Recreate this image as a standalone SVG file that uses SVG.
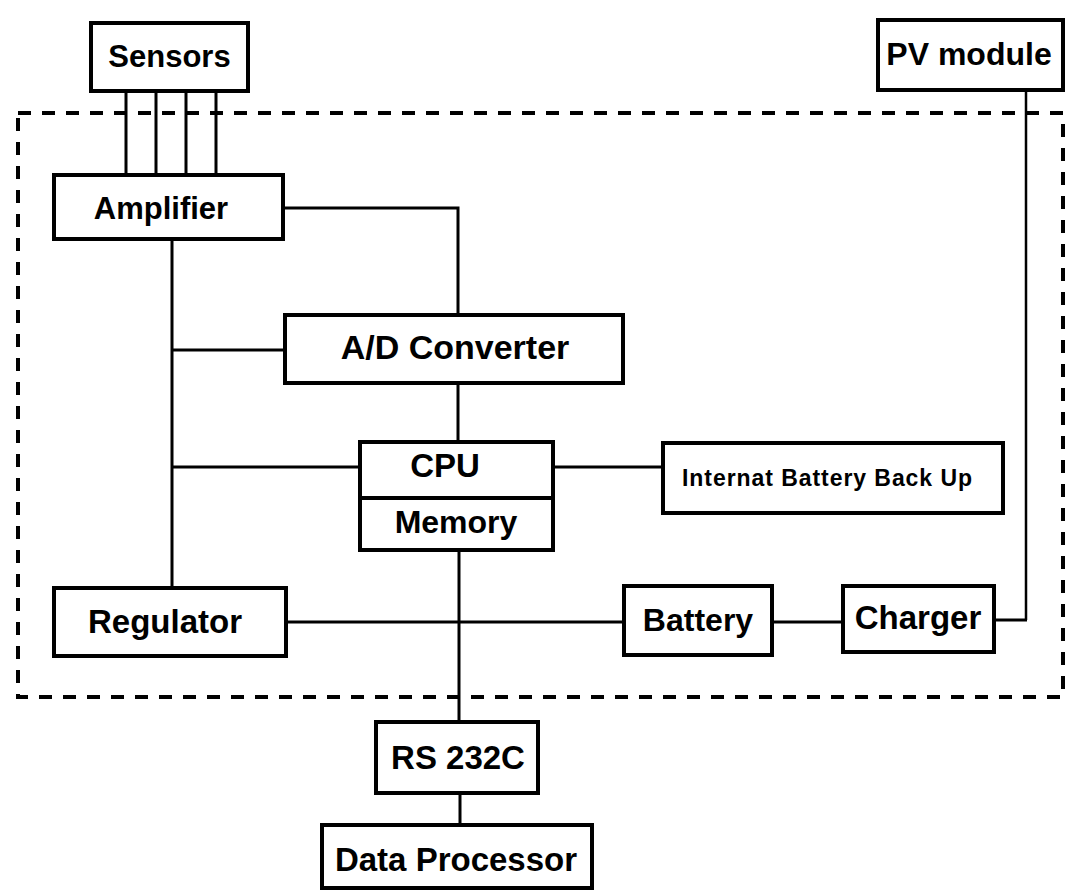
<svg xmlns="http://www.w3.org/2000/svg" width="1067" height="890" viewBox="0 0 1067 890">
<style>
.box{fill:#fff;stroke:#000;stroke-width:4}
.t{font-family:"Liberation Sans",Arial,Helvetica,sans-serif;font-weight:bold;fill:#000;text-anchor:middle}
.c{fill:none;stroke:#000;stroke-width:3}
.b{fill:none;stroke:#000;stroke-width:4;stroke-dasharray:13 11}
</style>
<rect width="1067" height="890" fill="#fff"/>
<rect id="boundary" class="b" x="18" y="113" width="1045" height="584"/>
<g id="connectors">
<path class="c" d="M126 91V175M156 91V175M186 91V175M216 91V175"/>
<path class="c" d="M283 208H458V315"/>
<path class="c" d="M172 239V588"/>
<path class="c" d="M172 350H285"/>
<path class="c" d="M458 383V442"/>
<path class="c" d="M172 467H360"/>
<path class="c" d="M553 467H663"/>
<path class="c" d="M459 550V722"/>
<path class="c" d="M286 622H624"/>
<path class="c" d="M772 622H843"/>
<path class="c" d="M994 620H1027"/>
<path class="c" style="stroke-width:2.5" d="M1026 90V620"/>
<path class="c" d="M460 793V825"/>
</g>
<g id="sensors"><rect class="box" x="91" y="23" width="157" height="68"/><text class="t" x="169.5" y="67" font-size="31">Sensors</text></g>
<g id="pv-module"><rect class="box" x="878" y="20" width="185" height="70"/><text class="t" x="969" y="65" font-size="32">PV module</text></g>
<g id="amplifier"><rect class="box" x="54" y="175" width="229" height="64"/><text class="t" x="161" y="219" font-size="31">Amplifier</text></g>
<g id="ad-converter"><rect class="box" x="285" y="315" width="338" height="68"/><text class="t" x="455" y="359" font-size="34">A/D Converter</text></g>
<g id="cpu-memory"><rect class="box" x="360" y="442" width="193" height="108"/><line x1="360" y1="498" x2="553" y2="498" stroke="#000" stroke-width="4"/><text class="t" x="445" y="477" font-size="33">CPU</text><text class="t" x="456" y="533" font-size="32">Memory</text></g>
<g id="internal-battery"><rect class="box" x="663" y="443" width="340" height="70"/><text class="t" x="827" y="486" font-size="23" textLength="290" lengthAdjust="spacing">Internat Battery Back Up</text></g>
<g id="regulator"><rect class="box" x="54" y="588" width="232" height="68"/><text class="t" x="165" y="633" font-size="33">Regulator</text></g>
<g id="battery"><rect class="box" x="624" y="586" width="148" height="69"/><text class="t" x="698" y="631" font-size="32">Battery</text></g>
<g id="charger"><rect class="box" x="843" y="586" width="151" height="66"/><text class="t" x="918" y="629" font-size="33">Charger</text></g>
<g id="rs232c"><rect class="box" x="376" y="722" width="162" height="71"/><text class="t" x="458" y="769" font-size="33">RS 232C</text></g>
<g id="data-processor"><rect class="box" x="322" y="825" width="270" height="63"/><text class="t" x="456" y="871" font-size="33">Data Processor</text></g>
</svg>
